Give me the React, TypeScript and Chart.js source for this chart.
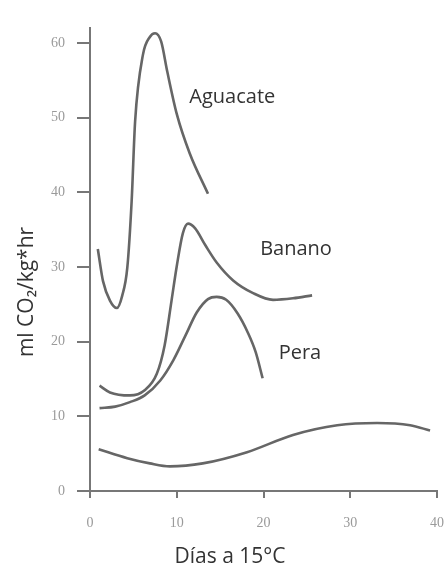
import React, { useEffect, useRef } from "react";
import { Chart, registerables } from "chart.js";

Chart.register(...registerables);

const aguacateX = [0.9, 1.5, 2.3, 3.1, 3.7, 4.3, 4.8, 5.2, 6.1, 6.9, 7.5, 8.2, 8.9, 10.0, 11.5, 13.6];
const aguacateY = [32.4, 28.1, 25.5, 24.5, 26.1, 29.9, 38.8, 49.5, 58.4, 60.8, 61.3, 60.2, 56.2, 50.5, 45.2, 39.8];

const bananoX = [1.1, 2.3, 4.6, 6.3, 7.7, 8.6, 9.4, 10.0, 10.7, 11.3, 12.1, 13.3, 14.6, 16.5, 18.8, 21.1, 23.4, 25.6];
const bananoY = [14.1, 13.2, 12.8, 13.5, 15.7, 19.5, 25.5, 30.1, 34.5, 35.8, 35.2, 32.9, 30.6, 28.2, 26.5, 25.6, 25.8, 26.2];

const peraX = [1.1, 2.9, 4.6, 6.3, 8.1, 9.6, 11.0, 12.3, 13.6, 14.6, 15.7, 17.0, 18.2, 19.1, 19.9];
const peraY = [11.1, 11.3, 11.9, 12.8, 14.8, 17.5, 20.8, 23.9, 25.7, 26.0, 25.6, 23.8, 21.2, 18.6, 15.1];

const bottomX = [1.0, 4.3, 6.9, 9.2, 13.0, 18.1, 23.4, 28.5, 33.1, 36.9, 39.2];
const bottomY = [5.6, 4.4, 3.7, 3.3, 3.7, 5.2, 7.5, 8.8, 9.1, 8.8, 8.1];

const yTicks = [0, 10, 20, 30, 40, 50, 60];
const xTicks = [0, 10, 20, 30, 40];

const labelTexts = ["Aguacate", "Banano", "Pera"];
const labelX = [16.4, 23.75, 24.2];
const labelY = [52.7, 32.3, 18.5];

const yTitle = "ml CO₂/kg*hr";
const xTitle = "Días a 15°C";

const toPoints = (xs: number[], ys: number[]) => xs.map((x, i) => ({ x, y: ys[i] }));

const lineColor = "#666666";
const axisColor = "#777777";
const tickFont = { family: "'Liberation Serif', serif", size: 14 };

export default function App() {
  const ref = useRef<HTMLCanvasElement | null>(null);
  useEffect(() => {
    if (!ref.current) return;
    const series = [
      toPoints(aguacateX, aguacateY),
      toPoints(bananoX, bananoY),
      toPoints(peraX, peraY),
      toPoints(bottomX, bottomY),
    ];
    const textPlugin = {
      id: "texts",
      afterDraw(chart: any) {
        const ctx = chart.ctx;
        const xs = chart.scales.x;
        const ys = chart.scales.y;
        ctx.save();
        ctx.fillStyle = "#333";
        ctx.font = "20px 'Open Sans', sans-serif";
        ctx.textAlign = "center";
        ctx.textBaseline = "middle";
        labelTexts.forEach((t, i) => {
          ctx.fillText(t, xs.getPixelForValue(labelX[i]), ys.getPixelForValue(labelY[i]));
        });
        ctx.font = "21px 'Open Sans', sans-serif";
        ctx.fillText(xTitle, 230, 557);
        ctx.translate(27, 292);
        ctx.rotate(-Math.PI / 2);
        ctx.font = "21px 'Open Sans', sans-serif";
        ctx.fillText(yTitle, 0, 0);
        ctx.restore();
      },
    };
    const chart = new Chart(ref.current, {
      type: "line",
      data: {
        datasets: series.map((d) => ({
          data: d,
          borderColor: lineColor,
          borderWidth: 2.6,
          pointRadius: 0,
          fill: false,
          cubicInterpolationMode: "monotone" as const,
        })),
      },
      options: {
        responsive: false,
        animation: false,
        events: [],
        layout: { padding: { left: 0, right: 8, top: 28, bottom: 0 } },
        plugins: { legend: { display: false }, tooltip: { enabled: false }, title: { display: false } },
        scales: {
          x: {
            type: "linear",
            min: 0,
            max: 40,
            afterFit: (s: any) => {
              s.height = 82;
              s.paddingLeft = 0;
              s.paddingRight = 0;
            },
            afterBuildTicks: (s: any) => { s.ticks = xTicks.map((v) => ({ value: v })); },
            border: { display: true, color: axisColor, width: 2 },
            grid: { drawOnChartArea: false, drawTicks: true, tickLength: 7, color: axisColor, lineWidth: 2 },
            ticks: { color: "#9a9a9a", font: tickFont, padding: 17 },
          },
          y: {
            type: "linear",
            min: 0,
            max: 62,
            afterFit: (s: any) => {
              s.width = 90;
              s.paddingTop = 0;
              s.paddingBottom = 0;
            },
            afterBuildTicks: (s: any) => { s.ticks = yTicks.map((v) => ({ value: v })); },
            border: { display: true, color: axisColor, width: 2 },
            grid: { drawOnChartArea: false, drawTicks: true, tickLength: 13, color: axisColor, lineWidth: 2 },
            ticks: { color: "#9a9a9a", font: tickFont, padding: 12 },
          },
        },
      },
      plugins: [textPlugin],
    });
    return () => chart.destroy();
  }, []);
  return (
    <div style={{ position: "fixed", left: 0, top: 0, width: 445, height: 573, background: "#fff" }}>
      <canvas ref={ref} width={445} height={573} style={{ display: "block" }} />
    </div>
  );
}
